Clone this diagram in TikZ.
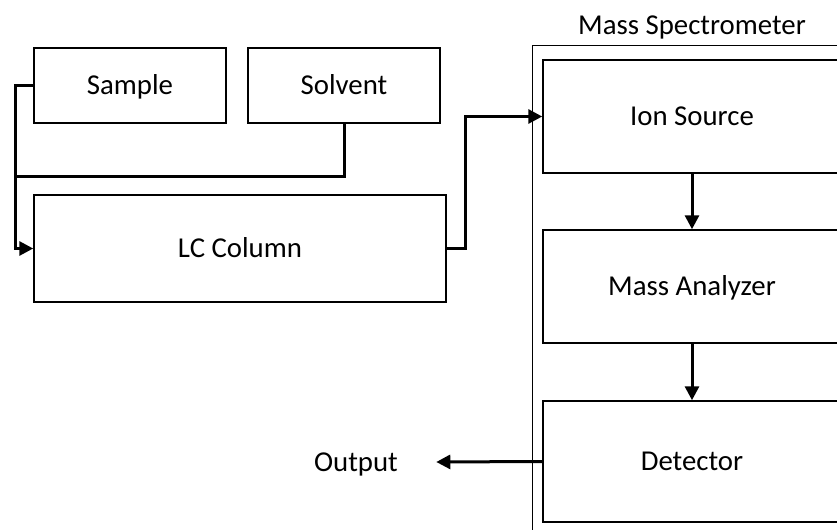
\documentclass[tikz,border=0pt]{standalone}
\usepackage{fontspec}
\setmainfont{Carlito}
\usetikzlibrary{positioning,calc,arrows.meta}

\begin{document}
\begin{tikzpicture}[x=0.5pt, y=-0.5pt, >={Triangle[length=7pt,width=7pt]},
    font=\fontsize{14.4}{17}\selectfont,
    every node/.style={text height=9.3pt, text depth=0pt},
    block/.style={draw, line width=0.75pt, inner sep=0pt},
    flow/.style={->, line width=1.5pt},
    pipe/.style={line width=1.5pt}]
    \useasboundingbox (0,0) rectangle (837,530);

    % LC side
    \node [block, minimum width=96pt, minimum height=37.5pt] (sample) at (130,85.5) {Sample};
    \node [block, minimum width=96pt, minimum height=37.5pt] (solvent) at (344,85.5) {Solvent};
    \node [block, minimum width=206pt, minimum height=53.5pt] (lc) at (240,248.5) {LC Column};
    \coordinate (join) at (15,176);
    \draw [flow] (sample.west) -- (sample.west -| join) |- (lc.west);
    \draw [pipe] (solvent.south) |- (join);

    % Mass spectrometer
    \node [draw, line width=0.5pt, minimum width=160pt, minimum height=250pt] (ms) at (692,295) {};
    \node (mslabel) at (692,25) {Mass Spectrometer};
    \node [block, minimum width=149pt, minimum height=56.5pt] (ionsrc) at (692,116.5) {Ion Source};
    \node [block, minimum width=149pt, minimum height=56.5pt] (analyzer) at (692,286.5) {Mass Analyzer};
    \node [block, minimum width=149pt, minimum height=60.5pt] (detector) at (692,461.5) {Detector};
    \draw [flow] (lc.east) -- ++(19,0) |- (ionsrc.west);
    \draw [flow] (ionsrc.south) -- (analyzer.north);
    \draw [flow] (analyzer.south) -- (detector.north);

    % Output
    \node [inner xsep=19pt] (output) at (356,462) {Output};
    \draw [flow] (detector.west) -- (output.east);
\end{tikzpicture}
\end{document}
